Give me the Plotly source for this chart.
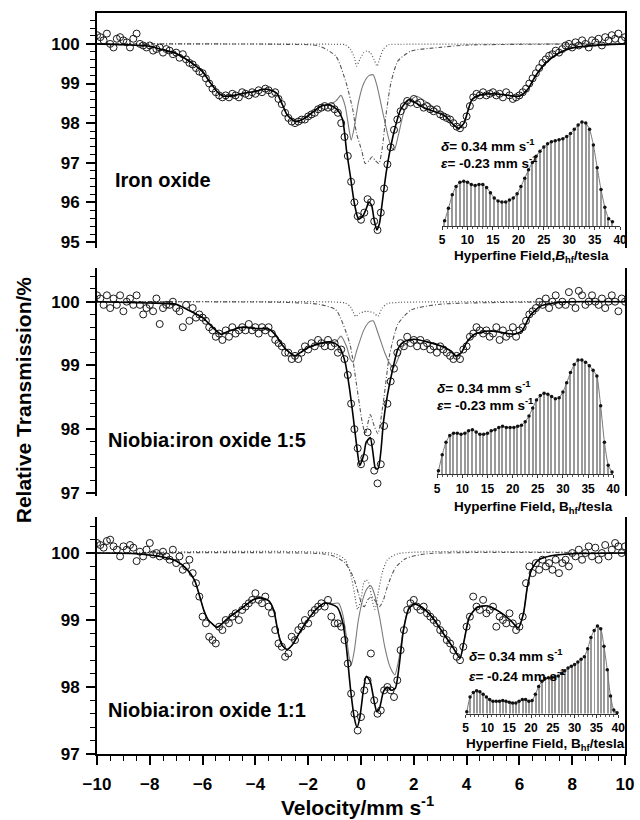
import plotly.graph_objects as go

FONT = "Liberation Sans, Arial, Helvetica, sans-serif"

# ---------------- channel velocities (mm/s) ----------------
VELOCITY = [
    -10.0, -9.875, -9.75, -9.625, -9.5, -9.375, -9.25, -9.125,
    -9.0, -8.875, -8.75, -8.625, -8.5, -8.375, -8.25, -8.125,
    -8.0, -7.875, -7.75, -7.625, -7.5, -7.375, -7.25, -7.125,
    -7.0, -6.875, -6.75, -6.625, -6.5, -6.375, -6.25, -6.125,
    -6.0, -5.875, -5.75, -5.625, -5.5, -5.375, -5.25, -5.125,
    -5.0, -4.875, -4.75, -4.625, -4.5, -4.375, -4.25, -4.125,
    -4.0, -3.875, -3.75, -3.625, -3.5, -3.375, -3.25, -3.125,
    -3.0, -2.875, -2.75, -2.625, -2.5, -2.375, -2.25, -2.125,
    -2.0, -1.875, -1.75, -1.625, -1.5, -1.375, -1.25, -1.125,
    -1.0, -0.875, -0.75, -0.625, -0.5, -0.375, -0.25, -0.125,
    0.0, 0.125, 0.25, 0.375, 0.5, 0.625, 0.75, 0.875,
    1.0, 1.125, 1.25, 1.375, 1.5, 1.625, 1.75, 1.875,
    2.0, 2.125, 2.25, 2.375, 2.5, 2.625, 2.75, 2.875,
    3.0, 3.125, 3.25, 3.375, 3.5, 3.625, 3.75, 3.875,
    4.0, 4.125, 4.25, 4.375, 4.5, 4.625, 4.75, 4.875,
    5.0, 5.125, 5.25, 5.375, 5.5, 5.625, 5.75, 5.875,
    6.0, 6.125, 6.25, 6.375, 6.5, 6.625, 6.75, 6.875,
    7.0, 7.125, 7.25, 7.375, 7.5, 7.625, 7.75, 7.875,
    8.0, 8.125, 8.25, 8.375, 8.5, 8.625, 8.75, 8.875,
    9.0, 9.125, 9.25, 9.375, 9.5, 9.625, 9.75, 9.875,
    10.0,
]

# ---------------- Iron oxide ----------------
TOP_DATA = [
    100.22, 100.17, 100.09, 100.26, 100.00, 99.91, 100.13, 100.17,
    100.09, 100.04, 99.91, 100.13, 100.26, 100.00, 99.96, 99.91,
    99.96, 99.83, 99.87, 99.91, 99.78, 99.87, 99.83, 99.74,
    99.78, 99.65, 99.74, 99.61, 99.52, 99.48, 99.39, 99.30,
    99.26, 99.13, 99.00, 98.87, 98.78, 98.70, 98.65, 98.70,
    98.65, 98.74, 98.70, 98.65, 98.78, 98.74, 98.70, 98.78,
    98.74, 98.83, 98.78, 98.87, 98.83, 98.74, 98.78, 98.61,
    98.48, 98.26, 98.13, 98.04, 98.00, 98.04, 98.09, 98.09,
    98.17, 98.22, 98.26, 98.35, 98.39, 98.43, 98.39, 98.43,
    98.35, 98.26, 98.00, 97.65, 97.17, 96.52, 96.00, 95.65,
    95.56, 95.74, 96.08, 96.00, 95.52, 95.30, 95.74, 96.35,
    96.96, 97.39, 97.83, 98.09, 98.30, 98.43, 98.56, 98.52,
    98.61, 98.48, 98.52, 98.39, 98.43, 98.35, 98.30, 98.35,
    98.22, 98.17, 98.13, 98.09, 98.00, 97.91, 97.87, 97.96,
    98.17, 98.43, 98.65, 98.74, 98.70, 98.78, 98.70, 98.74,
    98.78, 98.70, 98.74, 98.65, 98.78, 98.70, 98.61, 98.65,
    98.70, 98.78, 98.87, 99.00, 99.13, 99.26, 99.39, 99.52,
    99.61, 99.70, 99.74, 99.83, 99.78, 99.87, 99.96, 100.00,
    99.91, 100.04, 99.96, 100.09, 100.00, 99.91, 100.09, 100.04,
    100.13, 99.96, 100.17, 100.09, 100.22, 100.13, 100.26, 100.09,
    100.17,
]
TOP_FIT_V = [-10, -9, -8, -7.5, -7, -6.5, -6, -5.7, -5.4, -5.2, -4.8, -4.4, -4, -3.6, -3.2,
             -3.0, -2.8, -2.5, -2.2, -1.8, -1.5, -1.2, -0.9, -0.7, -0.55, -0.4, -0.25, -0.1, 0.05, 0.2,
             0.3, 0.4, 0.5, 0.6, 0.7, 0.8, 0.95, 1.1, 1.3, 1.5, 1.8, 2.1, 2.4, 2.8, 3.2,
             3.5, 3.7, 3.9, 4.2, 4.5, 5, 5.5, 6, 6.3, 6.6, 7, 7.5, 8, 9, 10]
TOP_FIT_T = [100, 99.98, 99.94, 99.85, 99.76, 99.56, 99.3, 99.01, 98.76, 98.68, 98.7, 98.76, 98.8, 98.86, 98.76,
             98.5, 98.21, 98.04, 98.1, 98.29, 98.43, 98.46, 98.34, 98.1, 97.32, 96.65, 95.97, 95.59, 95.63, 95.84,
             96.01, 95.93, 95.55, 95.3, 95.47, 95.97, 96.73, 97.32, 97.91, 98.34, 98.59, 98.5, 98.38, 98.29, 98.17,
             97.96, 97.87, 98.0, 98.59, 98.71, 98.74, 98.71, 98.68, 98.84, 99.18, 99.52, 99.77, 99.9, 99.97, 100]
TOP_SEXT_V = [-10, -9, -8, -7.5, -7, -6.5, -6, -5.7, -5.4, -5.2, -4.8, -4.4, -4, -3.6, -3.2,
              -3.0, -2.8, -2.5, -2.2, -1.8, -1.5, -1.2,
              -0.95, -0.76, -0.6, -0.45, -0.37, -0.25, -0.1, 0.1, 0.3, 0.46, 0.6, 0.8, 1.0, 1.15, 1.26,
              1.4, 1.6, 1.8, 2.1, 2.5, 2.96,
              3.2, 3.5, 3.7, 3.9, 4.2, 4.5, 5, 5.5, 6, 6.3, 6.6, 7, 7.5, 8, 9, 10]
TOP_SEXT_T = [100, 99.98, 99.94, 99.85, 99.76, 99.56, 99.3, 99.01, 98.76, 98.68, 98.7, 98.76, 98.8, 98.86, 98.76,
              98.5, 98.21, 98.04, 98.1, 98.29, 98.43, 98.46,
              98.56, 98.7, 98.43, 97.83, 97.57, 97.91, 98.52, 99.0, 99.2, 99.22, 98.96, 98.35, 97.74, 97.39, 97.32,
              97.65, 98.22, 98.52, 98.68, 98.52, 98.3,
              98.17, 97.96, 97.87, 98.0, 98.59, 98.71, 98.74, 98.71, 98.68, 98.84, 99.18, 99.52, 99.77, 99.9, 99.97, 100]
TOP_DD_V = [-10, -3, -1.6, -0.95, -0.56, -0.3, -0.17, 0.03, 0.16, 0.3, 0.42, 0.55, 0.68, 0.81, 0.94,
            1.13, 1.4, 1.9, 2.96, 4, 10]
TOP_DD_T = [100, 99.99, 99.95, 99.69, 99.01, 98.3, 97.74, 97.3, 96.98, 97.05, 97.15, 97.05, 96.98, 97.39, 98.17,
            99.01, 99.57, 99.82, 99.91, 99.97, 100]
TOP_DOT_V = [-10, -1.0, -0.6, -0.4, -0.25, -0.17, -0.05, 0.1, 0.22, 0.35, 0.5, 0.61, 0.72, 0.85, 1.05, 1.5, 10]
TOP_DOT_T = [100, 99.99, 99.98, 99.87, 99.65, 99.44, 99.6, 99.78, 99.82, 99.78, 99.6, 99.44, 99.65, 99.87,
             99.98, 99.99, 100]

# ---------------- Niobia:iron oxide 1:5 ----------------
MID_DATA = [
    100.10, 100.05, 99.95, 100.10, 99.90, 100.05, 99.95, 100.10,
    99.85, 100.00, 100.05, 99.95, 100.10, 99.95, 99.80, 99.90,
    99.95, 99.85, 100.05, 99.65, 99.90, 99.95, 99.95, 100.00,
    99.90, 99.85, 99.60, 99.95, 99.70, 99.90, 99.75, 99.80,
    99.75, 99.70, 99.60, 99.55, 99.45, 99.50, 99.40, 99.55,
    99.45, 99.60, 99.50, 99.55, 99.60, 99.55, 99.65, 99.55,
    99.60, 99.50, 99.60, 99.55, 99.60, 99.50, 99.40, 99.35,
    99.30, 99.20, 99.20, 99.10, 99.15, 99.10, 99.20, 99.30,
    99.25, 99.35, 99.30, 99.40, 99.35, 99.30, 99.40, 99.30,
    99.35, 99.20, 99.25, 99.10, 98.85, 98.40, 98.00, 97.70,
    97.45, 97.55, 97.95, 97.80, 97.35, 97.15, 97.45, 98.05,
    98.40, 98.75, 98.95, 99.20, 99.35, 99.30, 99.45, 99.35,
    99.40, 99.30, 99.40, 99.30, 99.35, 99.25, 99.30, 99.20,
    99.30, 99.25, 99.20, 99.15, 99.10, 99.15, 99.10, 99.25,
    99.30, 99.45, 99.50, 99.60, 99.55, 99.50, 99.55, 99.45,
    99.50, 99.60, 99.40, 99.55, 99.45, 99.50, 99.60, 99.45,
    99.55, 99.60, 99.70, 99.80, 99.85, 99.90, 100.00, 99.95,
    100.05, 99.90, 100.00, 100.10, 99.95, 100.00, 99.95, 100.15,
    100.00, 99.90, 100.17, 100.10, 99.95, 100.00, 100.10, 100.00,
    99.95, 100.05, 99.90, 100.00, 100.10, 100.00, 99.85, 100.05,
    100.00,
]
MID_FIT_V = [-10, -8, -7, -6.6, -6, -5.6, -5.3, -5, -4.5, -4, -3.5, -3.2, -3.0, -2.7, -2.5,
             -2.3, -2.0, -1.5, -1.2, -1.0, -0.8, -0.6, -0.45, -0.3, -0.15, -0.05, 0.1, 0.2, 0.35, 0.45,
             0.55, 0.65, 0.75, 0.85, 1.0, 1.2, 1.4, 1.6, 2.0, 2.5, 3.0, 3.4, 3.6, 3.8, 4.0,
             4.3, 4.8, 5.3, 5.8, 6.1, 6.4, 6.8, 7.3, 8, 10]
MID_FIT_T = [100, 99.98, 99.96, 99.88, 99.75, 99.59, 99.49, 99.54, 99.6, 99.58, 99.57, 99.46, 99.33, 99.2, 99.15,
             99.2, 99.28, 99.35, 99.37, 99.35, 99.28, 99.05, 98.68, 98.21, 97.69, 97.43, 97.59, 97.8, 97.87, 97.64,
             97.38, 97.38, 97.64, 98.11, 98.53, 98.94, 99.26, 99.37, 99.41, 99.37, 99.31, 99.23, 99.15, 99.2, 99.36,
             99.49, 99.54, 99.52, 99.49, 99.54, 99.78, 99.93, 99.98, 100, 100]
MID_SEXT_V = [-10, -8, -7, -6.6, -6, -5.6, -5.3, -5, -4.5, -4, -3.5, -3.2, -3.0, -2.7, -2.5,
              -2.3, -2.0, -1.5, -1.2,
              -0.95, -0.76, -0.55, -0.4, -0.3, -0.15, 0.1, 0.3, 0.46, 0.65, 0.9, 1.1, 1.24, 1.4, 1.6,
              2.0, 2.5, 3.0, 3.4, 3.6, 3.8, 4.0, 4.3, 4.8, 5.3, 5.8, 6.1, 6.4, 6.8, 7.3, 8, 10]
MID_SEXT_T = [100, 99.98, 99.96, 99.88, 99.75, 99.59, 99.49, 99.54, 99.6, 99.58, 99.57, 99.46, 99.33, 99.2, 99.15,
              99.2, 99.28, 99.35, 99.37,
              99.37, 99.46, 99.3, 99.1, 99.05, 99.25, 99.55, 99.68, 99.7, 99.5, 99.2, 99.02, 98.97, 99.1, 99.3,
              99.41, 99.37, 99.31, 99.23, 99.15, 99.2, 99.36, 99.49, 99.54, 99.52, 99.49, 99.54, 99.78, 99.93,
              99.98, 100, 100]
MID_DD_V = [-10, -3, -1.6, -0.95, -0.43, -0.1, 0.05, 0.16, 0.35, 0.5, 0.64, 0.87, 1.07, 1.4, 1.9, 3, 10]
MID_DD_T = [100, 99.99, 99.96, 99.87, 99.35, 98.5, 98.1, 97.93, 98.23, 98.05, 97.93, 98.5, 99.14, 99.65,
            99.87, 99.96, 100]
MID_DOT_V = [-10, -1.0, -0.6, -0.4, -0.2, -0.05, 0.1, 0.22, 0.35, 0.5, 0.64, 0.8, 1.0, 1.5, 10]
MID_DOT_T = [100, 99.995, 99.98, 99.92, 99.77, 99.82, 99.84, 99.85, 99.84, 99.82, 99.77, 99.9, 99.97, 99.99, 100]

# ---------------- Niobia:iron oxide 1:1 ----------------
BOT_DATA = [
    100.15, 100.12, 100.08, 100.18, 100.20, 100.10, 100.05, 99.95,
    100.10, 100.05, 100.12, 100.08, 99.88, 100.02, 99.95, 100.05,
    100.15, 99.98, 100.00, 99.95, 100.02, 99.95, 99.90, 100.05,
    99.85, 99.95, 99.75, 99.80, 99.90, 99.70, 99.55, 99.35,
    99.05, 98.95, 98.75, 98.70, 98.65, 98.90, 98.85, 99.00,
    98.95, 99.05, 99.10, 99.00, 99.15, 99.20, 99.25, 99.30,
    99.40, 99.30, 99.25, 99.35, 99.20, 99.10, 98.85, 98.65,
    98.60, 98.45, 98.50, 98.75, 98.70, 98.85, 98.90, 99.00,
    98.95, 99.10, 99.15, 99.20, 99.25, 99.20, 99.30, 99.05,
    98.95, 98.95, 98.90, 98.70, 98.35, 97.90, 97.60, 97.35,
    97.55, 97.95, 98.10, 98.50, 97.80, 97.60, 97.65, 97.95,
    98.00, 97.95, 97.85, 98.10, 98.55, 98.85, 99.15, 99.25,
    99.30, 99.20, 99.15, 99.20, 99.10, 99.05, 99.00, 98.95,
    98.85, 98.80, 98.70, 98.65, 98.55, 98.45, 98.40, 98.60,
    98.90, 99.05, 99.35, 99.20, 99.15, 99.30, 99.10, 99.15,
    99.20, 98.90, 99.05, 99.00, 98.95, 99.10, 98.95, 98.85,
    98.90, 99.05, 99.55, 99.80, 99.70, 99.85, 99.75, 99.90,
    99.80, 99.85, 99.75, 99.90, 99.70, 99.85, 99.90, 99.80,
    100.00, 99.95, 100.05, 99.90, 100.00, 100.10, 99.95, 100.08,
    99.90, 100.00, 100.12, 99.95, 100.05, 100.15, 100.10, 100.00,
    100.10,
]
BOT_FIT_V = [-10, -8.5, -7.5, -7, -6.6, -6.3, -6.1, -5.95, -5.8, -5.6, -5.45, -5, -4.5, -4.1, -3.8,
             -3.5, -3.3, -3.15, -3.0, -2.8, -2.6, -2.3, -2.0, -1.7, -1.4, -1.15, -0.9, -0.7, -0.55, -0.4,
             -0.25, -0.15, -0.05, 0.1, 0.2, 0.35, 0.5, 0.6, 0.7, 0.85, 1.0, 1.15, 1.3, 1.45, 1.6,
             1.8, 2.0, 2.3, 2.7, 3.1, 3.5, 3.75, 3.9, 4.1, 4.4, 4.8, 5.3, 5.7, 5.95, 6.15,
             6.3, 6.45, 6.7, 7.2, 8, 10]
BOT_FIT_T = [100, 99.99, 99.94, 99.88, 99.76, 99.59, 99.34, 99.14, 99.01, 98.93, 98.89, 99.04, 99.18, 99.3, 99.33,
             99.29, 99.14, 98.83, 98.63, 98.56, 98.63, 98.83, 99.01, 99.16, 99.25, 99.24, 99.19, 98.98, 98.58, 97.98,
             97.53, 97.4, 97.53, 97.98, 98.16, 98.08, 97.78, 97.63, 97.68, 97.93, 98.0, 97.95, 97.98, 98.33, 98.83,
             99.16, 99.24, 99.19, 99.04, 98.81, 98.58, 98.43, 98.68, 99.04, 99.19, 99.21, 99.11, 98.98, 98.88, 99.09,
             99.49, 99.74, 99.89, 99.96, 99.99, 100]
BOT_SEXT_V = [-10, -8.5, -7.5, -7, -6.6, -6.3, -6.1, -5.95, -5.8, -5.6, -5.45, -5, -4.5, -4.1, -3.8,
              -3.5, -3.3, -3.15, -3.0, -2.8, -2.6, -2.3, -2.0, -1.7, -1.4, -1.15,
              -0.85, -0.7, -0.55, -0.45, -0.37, -0.25, -0.1, 0.1, 0.25, 0.37, 0.5, 0.7, 0.9, 1.1, 1.28,
              1.45, 1.6, 1.84,
              2.0, 2.3, 2.7, 3.1, 3.5, 3.75, 3.9, 4.1, 4.4, 4.8, 5.3, 5.7, 5.95, 6.15, 6.3, 6.45, 6.7, 7.2, 8, 10]
BOT_SEXT_T = [100, 99.99, 99.94, 99.88, 99.76, 99.59, 99.34, 99.14, 99.01, 98.93, 98.89, 99.04, 99.18, 99.3, 99.33,
              99.29, 99.14, 98.83, 98.63, 98.56, 98.63, 98.83, 99.01, 99.16, 99.25, 99.24,
              99.25, 99.1, 98.75, 98.45, 98.33, 98.55, 99.0, 99.35, 99.48, 99.51, 99.4, 99.05, 98.6, 98.3, 98.18,
              98.45, 98.85, 99.22,
              99.24, 99.19, 99.04, 98.81, 98.58, 98.43, 98.68, 99.04, 99.19, 99.21, 99.11, 98.98, 98.88, 99.09,
              99.49, 99.74, 99.89, 99.96, 99.99, 100]
BOT_DD_V = [-10, -1.5, -1.0, -0.6, -0.3, -0.1, 0.05, 0.13, 0.25, 0.4, 0.55, 0.7, 0.85, 1.0, 1.3, 1.7, 2.5, 10]
BOT_DD_T = [100, 99.99, 99.95, 99.85, 99.65, 99.4, 99.22, 99.2, 99.3, 99.35, 99.28, 99.2, 99.3, 99.5, 99.78,
            99.92, 99.99, 100]
BOT_DOT_V = [-10, -1.0, -0.6, -0.4, -0.25, -0.13, 0.0, 0.1, 0.2, 0.3, 0.42, 0.53, 0.65, 0.8, 1.0, 1.4, 10]
BOT_DOT_T = [100, 99.99, 99.9, 99.7, 99.4, 99.16, 99.3, 99.55, 99.6, 99.55, 99.3, 99.16, 99.4, 99.7, 99.9,
             99.99, 100]

# ---------------- hyperfine field distributions (insets) ----------------
TOP_B = [5.5, 6.25, 7.0, 7.75, 8.5, 9.25, 10.0, 10.75, 11.5, 12.25, 13.0, 13.75, 14.5, 15.25, 16.0,
         16.75, 17.5, 18.25, 19.0, 19.75, 20.5, 21.25, 22.0, 22.75, 23.5, 24.25, 25.0, 25.75, 26.5, 27.25,
         28.0, 28.75, 29.5, 30.25, 31.0, 31.75, 32.5, 33.25, 34.0, 34.75, 35.5, 36.25, 37.0, 37.75, 38.5]
TOP_P = [0.05, 0.17, 0.30, 0.38, 0.42, 0.43, 0.42, 0.40, 0.39, 0.40, 0.40, 0.37, 0.32, 0.27, 0.24,
         0.23, 0.23, 0.25, 0.27, 0.31, 0.38, 0.46, 0.54, 0.61, 0.67, 0.72, 0.76, 0.79, 0.81, 0.82,
         0.83, 0.84, 0.86, 0.89, 0.93, 0.97, 1.0, 0.99, 0.93, 0.78, 0.56, 0.35, 0.18, 0.07, 0.04]
LOW_B = [5.25, 6.0, 6.75, 7.5, 8.25, 9.0, 9.75, 10.5, 11.25, 12.0, 12.75, 13.5, 14.25, 15.0, 15.75,
         16.5, 17.25, 18.0, 18.75, 19.5, 20.25, 21.0, 21.75, 22.5, 23.25, 24.0, 24.75, 25.5, 26.25, 27.0,
         27.75, 28.5, 29.25, 30.0, 30.75, 31.5, 32.25, 33.0, 33.75, 34.5, 35.25, 36.0, 36.75, 37.5, 38.25,
         39.0, 39.75]
MID_P = [0.03, 0.17, 0.28, 0.34, 0.36, 0.36, 0.35, 0.36, 0.38, 0.39, 0.37, 0.35, 0.35, 0.36, 0.38,
         0.39, 0.41, 0.42, 0.41, 0.41, 0.41, 0.42, 0.43, 0.46, 0.51, 0.58, 0.65, 0.69, 0.71, 0.70,
         0.68, 0.66, 0.67, 0.72, 0.80, 0.89, 0.96, 1.0, 1.0, 0.98, 0.95, 0.91, 0.86, 0.60, 0.28,
         0.08, 0.02]
BOT_P = [0.02, 0.19, 0.24, 0.26, 0.25, 0.22, 0.19, 0.16, 0.14, 0.14, 0.14, 0.15, 0.14, 0.13, 0.12,
         0.12, 0.14, 0.16, 0.16, 0.14, 0.15, 0.22, 0.31, 0.37, 0.40, 0.41, 0.41, 0.42, 0.43, 0.46,
         0.49, 0.52, 0.54, 0.56, 0.59, 0.62, 0.65, 0.74, 0.87, 0.95, 1.0, 0.97, 0.77, 0.50, 0.20,
         0.04, 0.01]

PANEL_LABELS = ["Iron oxide", "Niobia:iron oxide 1:5", "Niobia:iron oxide 1:1"]
DELTA_TEXT = ["0.34", "0.34", "0.34"]
EPS_TEXT = ["-0.23", "-0.23", "-0.24"]
X_TICKS = [-10, -8, -6, -4, -2, 0, 2, 4, 6, 8, 10]
INSET_TICKS = [5, 10, 15, 20, 25, 30, 35, 40]

fig = go.Figure()


def add_panel(xa, ya, data, fit_v, fit_t, sext_v, sext_t, dd_v, dd_t, dot_v, dot_t):
    common = dict(xaxis=xa, yaxis=ya, hoverinfo="skip", showlegend=False)
    fig.add_trace(go.Scatter(x=sext_v, y=sext_t, mode="lines",
                             line=dict(color="#7a7a7a", width=1.1, shape="spline", smoothing=0.6), **common))
    fig.add_trace(go.Scatter(x=dot_v, y=dot_t, mode="lines",
                             line=dict(color="#555555", width=1.2, dash="1px,2px", shape="spline", smoothing=0.6),
                             **common))
    fig.add_trace(go.Scatter(x=dd_v, y=dd_t, mode="lines",
                             line=dict(color="#555555", width=1.1, dash="4px,2px,1px,2px", shape="spline",
                                       smoothing=0.6), **common))
    fig.add_trace(go.Scatter(x=VELOCITY, y=data, mode="markers",
                             marker=dict(symbol="circle-open", size=7, color="#1a1a1a", line=dict(width=1)),
                             **common))
    fig.add_trace(go.Scatter(x=fit_v, y=fit_t, mode="lines",
                             line=dict(color="black", width=1.6, shape="spline", smoothing=0.6), **common))


add_panel("x", "y", TOP_DATA, TOP_FIT_V, TOP_FIT_T, TOP_SEXT_V, TOP_SEXT_T, TOP_DD_V, TOP_DD_T, TOP_DOT_V, TOP_DOT_T)
add_panel("x2", "y2", MID_DATA, MID_FIT_V, MID_FIT_T, MID_SEXT_V, MID_SEXT_T, MID_DD_V, MID_DD_T, MID_DOT_V, MID_DOT_T)
add_panel("x3", "y3", BOT_DATA, BOT_FIT_V, BOT_FIT_T, BOT_SEXT_V, BOT_SEXT_T, BOT_DD_V, BOT_DD_T, BOT_DOT_V, BOT_DOT_T)


def add_inset(xa, ya, b, p):
    common = dict(xaxis=xa, yaxis=ya, hoverinfo="skip", showlegend=False)
    fig.add_trace(go.Bar(x=b, y=p, width=0.22, marker=dict(color="#9a9a9a", line=dict(width=0)), **common))
    fig.add_trace(go.Scatter(x=b, y=p, mode="lines+markers", cliponaxis=False,
                             line=dict(color="#777777", width=1, shape="spline", smoothing=0.5),
                             marker=dict(color="#111111", size=3.5), **common))


add_inset("x4", "y4", TOP_B, TOP_P)
add_inset("x5", "y5", LOW_B, MID_P)
add_inset("x6", "y6", LOW_B, BOT_P)

tickfont = dict(family=FONT, size=17, color="black", weight="bold")
yaxis_common = dict(showline=True, linewidth=2, linecolor="black", mirror=True, ticks="outside", ticklen=9,
                    tickwidth=1.5, tickcolor="black", dtick=1, tick0=0, showgrid=False, zeroline=False,
                    tickfont=tickfont, ticklabelstandoff=3,
                    minor=dict(dtick=0.2, ticklen=5, tickwidth=1.2, tickcolor="black", ticks="outside",
                               showgrid=False))
inset_x = dict(range=[5, 40], showline=True, linewidth=1, linecolor="#333333", ticks="outside", ticklen=3,
               tickwidth=1, tickcolor="#333333", tickvals=INSET_TICKS, showgrid=False, zeroline=False,
               tickfont=dict(family=FONT, size=12, color="black", weight="bold"),
               minor=dict(dtick=1, ticklen=2, tickcolor="#555555", ticks="outside", showgrid=False))
inset_y = dict(range=[0, 1.0], visible=False, fixedrange=True)

fig.update_layout(
    width=640, height=820,
    margin=dict(l=97, r=6, t=13, b=66),
    paper_bgcolor="white", plot_bgcolor="rgba(0,0,0,0)",
    showlegend=False, bargap=0,
    xaxis=dict(domain=[0, 1], anchor="y", range=[-10, 10], side="top", showline=True, linewidth=2,
               linecolor="black", ticks="", showticklabels=False, showgrid=False, zeroline=False),
    xaxis2=dict(domain=[0, 1], anchor="y2", range=[-10, 10], visible=False),
    xaxis3=dict(domain=[0, 1], anchor="y3", range=[-10, 10], showline=True, linewidth=2, linecolor="black",
                ticks="outside", ticklen=9, tickwidth=1.5, tickcolor="black", tickvals=X_TICKS,
                showgrid=False, zeroline=False, tickfont=tickfont, ticklabelstandoff=5,
                minor=dict(dtick=0.5, tick0=0, ticklen=5, tickwidth=1.2, tickcolor="black", ticks="outside",
                           showgrid=False)),
    yaxis=dict(domain=[0.683, 1.0], anchor="x", range=[94.85, 100.78], **yaxis_common),
    yaxis2=dict(domain=[0.348, 0.656], anchor="x2", range=[96.95, 100.53], **yaxis_common),
    yaxis3=dict(domain=[0.0, 0.320], anchor="x3", range=[96.999, 100.54], **yaxis_common),
    xaxis4=dict(domain=[0.6536, 0.9907], anchor="y4", **inset_x),
    yaxis4=dict(domain=[0.7125, 0.8529], anchor="x4", **inset_y),
    xaxis5=dict(domain=[0.6443, 0.9777], anchor="y5", **inset_x),
    yaxis5=dict(domain=[0.3775, 0.5317], anchor="x5", **inset_y),
    xaxis6=dict(domain=[0.6983, 0.9870], anchor="y6", **inset_x),
    yaxis6=dict(domain=[0.0545, 0.1727], anchor="x6", **inset_y),
)

ann = []
label_font = dict(family=FONT, size=20, color="black", weight="bold")
for txt, x, y in zip(PANEL_LABELS, [0.0298, 0.0168, 0.0168], [0.7746, 0.4237, 0.0594]):
    ann.append(dict(text=txt, x=x, y=y, xref="paper", yref="paper", xanchor="left", yanchor="middle",
                    showarrow=False, font=label_font))

small_font = dict(family=FONT, size=13.5, color="black", weight="bold")
for d, e, x, yd, ye in zip(DELTA_TEXT, EPS_TEXT, [0.648, 0.6406, 0.7002],
                           [0.8219, 0.4953, 0.1336], [0.7989, 0.4723, 0.1066]):
    ann.append(dict(text="<i>δ</i>= " + d + " mm s<sup>-1</sup>", x=x, y=yd, xref="paper", yref="paper",
                    xanchor="left", yanchor="middle", showarrow=False, font=small_font))
    ann.append(dict(text="<i>ε</i>= " + e + " mm s<sup>-1</sup>", x=x, y=ye, xref="paper", yref="paper",
                    xanchor="left", yanchor="middle", showarrow=False, font=small_font))

title_font = dict(family=FONT, size=13.5, color="black", weight="bold")
inset_titles = ["Hyperfine Field,<i>B</i><sub>hf</sub>/tesla",
                "Hyperfine Field, B<sub>hf</sub>/tesla",
                "Hyperfine Field, B<sub>hf</sub>/tesla"]
for txt, x, y in zip(inset_titles, [0.823, 0.8268, 0.849], [0.6715, 0.3325, 0.0125]):
    ann.append(dict(text=txt, x=x, y=y, xref="paper", yref="paper", xanchor="center", yanchor="middle",
                    showarrow=False, font=title_font))

ann.append(dict(text="Relative Transmission/%", x=-0.1397, y=0.4777, xref="paper", yref="paper",
                textangle=-90, xanchor="center", yanchor="middle", showarrow=False,
                font=dict(family=FONT, size=21, color="black", weight="bold")))
ann.append(dict(text="Velocity/mm s<sup>-1</sup>", x=0.4935, y=-0.0702, xref="paper", yref="paper",
                xanchor="center", yanchor="middle", showarrow=False,
                font=dict(family=FONT, size=21, color="black", weight="bold")))
fig.update_layout(annotations=ann)

fig.write_html("out.html")
